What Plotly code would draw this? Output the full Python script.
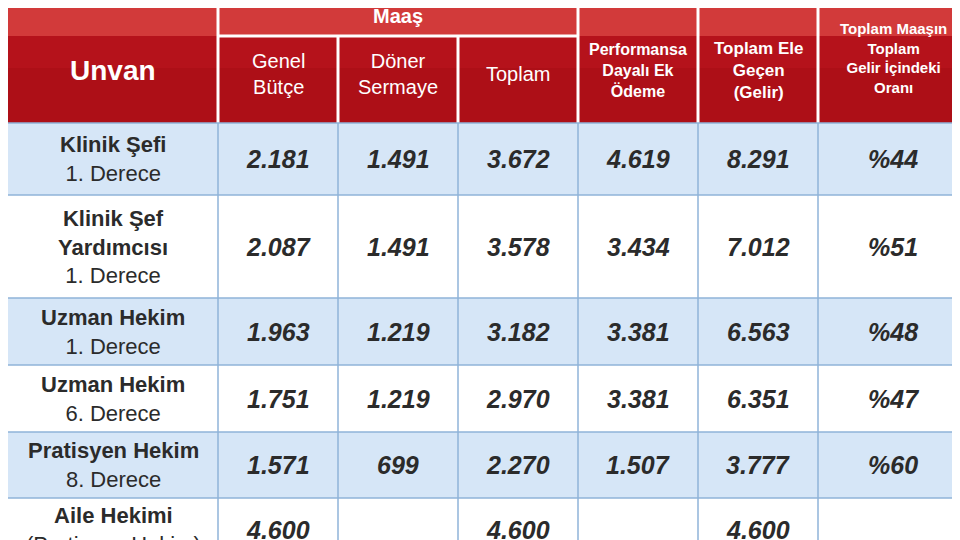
import plotly.graph_objects as go

# column edges (px) and row edges (px)
col_edges = [0, 210, 330, 450, 570, 690, 810, 960]
row_edges = [115, 187, 290, 357, 424, 490, 560]

unvan_main = ["Klinik Şefi", "Klinik Şef<br>Yardımcısı", "Uzman Hekim", "Uzman Hekim", "Pratisyen Hekim", "Aile Hekimi"]
unvan_sub = ["1. Derece", "1. Derece", "1. Derece", "6. Derece", "8. Derece", "(Pratisyen Hekim)"]
genel_butce = ["2.181", "2.087", "1.963", "1.751", "1.571", "4.600"]
doner_sermaye = ["1.491", "1.491", "1.219", "1.219", "699", ""]
toplam = ["3.672", "3.578", "3.182", "2.970", "2.270", "4.600"]
performans = ["4.619", "3.434", "3.381", "3.381", "1.507", ""]
ele_gecen = ["8.291", "7.012", "6.563", "6.351", "3.777", "4.600"]
oran = ["%44", "%51", "%48", "%47", "%60", ""]

sub_headers = ["Genel<br>Bütçe", "Döner<br>Sermaye", "Toplam",
               "Performansa<br>Dayalı Ek<br>Ödeme", "Toplam Ele<br>Geçen<br>(Gelir)",
               "Toplam Maaşın<br>Toplam<br>Gelir İçindeki<br>Oranı"]

FONT = "Liberation Sans Narrow, Arial Narrow, Liberation Sans, sans-serif"
RED = "#b5121b"
DARK = "#2b2b2b"

fig = go.Figure()
shapes = []
ann = []

# header background
shapes.append(dict(type="rect", x0=0, x1=960, y0=0, y1=115, fillcolor=RED, line_width=0, layer="below"))
shapes.append(dict(type="rect", x0=0, x1=960, y0=0, y1=28, fillcolor="#d23a3a", line_width=0, layer="below"))
shapes.append(dict(type="rect", x0=0, x1=960, y0=60, y1=115, fillcolor="#a80e16", line_width=0, layer="below", opacity=0.6))
# header separators
for x in col_edges[1:-1]:
    y0 = 28 if x in (330, 450) else 0
    shapes.append(dict(type="line", x0=x, x1=x, y0=y0, y1=115, line=dict(color="white", width=3)))
shapes.append(dict(type="line", x0=210, x1=570, y0=28, y1=28, line=dict(color="white", width=3)))

ann.append(dict(x=390, y=8, text="<b>Maaş</b>", font=dict(size=20, color="white", family=FONT)))
ann.append(dict(x=105, y=62, text="<b>Unvan</b>", font=dict(size=28, color="white", family=FONT)))
for i, h in enumerate(sub_headers):
    cx = (col_edges[i + 1] + col_edges[i + 2]) / 2
    size = [20, 20, 20, 16, 17, 15][i]
    cy = 66 if i < 3 else (62 if i < 5 else 50)
    ann.append(dict(x=cx, y=cy, text=f"<b>{h}</b>" if i >= 3 else h,
                    font=dict(size=size, color="white", family=FONT)))

# body rows
cols = [genel_butce, doner_sermaye, toplam, performans, ele_gecen, oran]
for r in range(len(unvan_main)):
    y0, y1 = row_edges[r], row_edges[r + 1]
    fill = "#d6e6f7" if r % 2 == 0 else "white"
    shapes.append(dict(type="rect", x0=0, x1=960, y0=y0, y1=y1, fillcolor=fill, line_width=0, layer="below"))
    shapes.append(dict(type="line", x0=0, x1=960, y0=y0, y1=y0, line=dict(color="#8fb3d9", width=1.5)))
    for x in col_edges[1:-1]:
        shapes.append(dict(type="line", x0=x, x1=x, y0=y0, y1=y1, line=dict(color="#8fb3d9", width=1.5)))
    cy = (y0 + min(y1, 540)) / 2 if r < 5 else 522
    ann.append(dict(x=105, y=cy, text=f"<b>{unvan_main[r]}</b><br>{unvan_sub[r]}",
                    font=dict(size=22, color=DARK, family=FONT)))
    for c, vals in enumerate(cols):
        if not vals[r]:
            continue
        cx = (col_edges[c + 1] + col_edges[c + 2]) / 2
        ann.append(dict(x=cx, y=cy, text=f"<b><i>{vals[r]}</i></b>",
                        font=dict(size=25, color=DARK, family=FONT)))

for a in ann:
    a.update(xref="x", yref="y", showarrow=False, xanchor="center", yanchor="middle")

fig.update_layout(
    width=960, height=540, margin=dict(l=0, r=0, t=0, b=0),
    plot_bgcolor="white", paper_bgcolor="white",
    xaxis=dict(range=[0, 960], visible=False, fixedrange=True),
    yaxis=dict(range=[540, 0], visible=False, fixedrange=True),
    shapes=shapes, annotations=ann, showlegend=False,
)
fig.write_html("out.html")
